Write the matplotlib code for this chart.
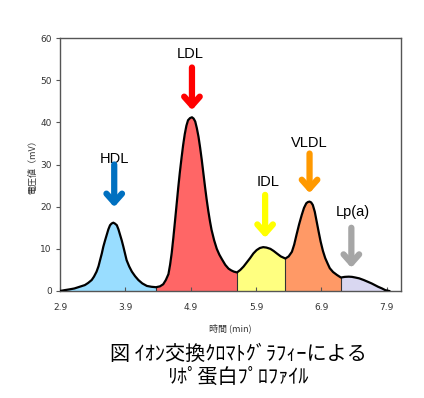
import numpy as np
import matplotlib
matplotlib.use("Agg")
import matplotlib.pyplot as plt

# ---- data ----
time_min = [2.90, 2.97, 3.05, 3.12, 3.20, 3.28, 3.33, 3.385, 3.42, 3.46, 3.49, 3.513, 3.54,
            3.563, 3.59, 3.615, 3.64, 3.666, 3.69, 3.716, 3.74, 3.77, 3.795, 3.82, 3.845,
            3.87, 3.895, 3.92, 3.96, 4.00, 4.05, 4.10, 4.16, 4.23, 4.30, 4.37,
            4.43, 4.48, 4.52, 4.56, 4.585, 4.61, 4.635, 4.66, 4.685, 4.71, 4.735, 4.76,
            4.785, 4.81, 4.835, 4.86, 4.89, 4.92, 4.945, 4.97, 4.995, 5.02, 5.045, 5.07,
            5.095, 5.12, 5.145, 5.17, 5.195, 5.22, 5.26, 5.30, 5.34, 5.38, 5.43, 5.48,
            5.52, 5.56, 5.61, 5.66, 5.71, 5.76, 5.81, 5.86, 5.91, 5.96, 6.01, 6.06,
            6.12, 6.17, 6.22, 6.28, 6.35, 6.40, 6.45, 6.485, 6.52, 6.56, 6.60, 6.635,
            6.67, 6.695, 6.72, 6.745, 6.77, 6.80, 6.83, 6.86, 6.89, 6.925, 6.96, 7.00,
            7.03, 7.08, 7.14, 7.20, 7.26, 7.32, 7.37, 7.42, 7.48, 7.55, 7.61, 7.67,
            7.72, 7.77, 7.83, 7.88, 7.94]
voltage_mv = [0.0, 0.2, 0.4, 0.6, 1.0, 1.4, 1.9, 2.6, 3.4, 4.6, 5.9, 7.3, 8.9,
              10.5, 12.0, 13.3, 14.6, 15.6, 16.0, 16.2, 16.0, 15.6, 14.6, 13.3, 12.0,
              10.5, 8.9, 7.3, 5.8, 4.6, 3.5, 2.6, 1.8, 1.2, 1.0, 0.9,
              1.1, 1.6, 2.6, 4.0, 6.2, 9.0, 12.6, 16.5, 20.5, 24.5, 28.2, 31.5,
              34.6, 37.2, 39.2, 40.5, 41.0, 41.2, 40.9, 40.2, 38.6, 36.6, 34.0, 31.1,
              27.9, 24.7, 21.7, 19.0, 16.6, 14.5, 12.0, 10.0, 8.6, 7.5, 6.2, 5.3,
              4.9, 4.6, 4.4, 5.0, 5.8, 6.8, 7.8, 8.9, 9.7, 10.2, 10.4, 10.3,
              10.0, 9.5, 8.9, 8.2, 7.7, 8.2, 9.3, 11.0, 13.3, 15.8, 18.0, 19.7,
              20.8, 21.1, 21.2, 21.0, 20.4, 18.8, 16.4, 14.0, 11.7, 9.5, 7.8, 6.4,
              5.4, 4.5, 3.8, 3.2, 3.35, 3.4, 3.35, 3.2, 3.0, 2.6, 2.2, 1.8,
              1.4, 1.0, 0.6, 0.2, 0.0]

fractions = ["HDL", "LDL", "IDL", "VLDL", "Lp(a)"]
boundaries = [2.90, 4.37, 5.61, 6.35, 7.20, 7.94]
fill_colors = ["#99DDFF", "#FF6666", "#FFFF80", "#FF9966", "#D9D7F1"]
arrow_colors = ["#0070C0", "#FF0000", "#FFFF00", "#FF9900", "#A6A6A6"]

x_ticks = [2.9, 3.9, 4.9, 5.9, 6.9, 7.9]
x_tick_labels = ["2.9", "3.9", "4.9", "5.9", "6.9", "7.9"]
y_ticks = [0, 10, 20, 30, 40, 50, 60]

title_lines = "図 ｲｵﾝ交換ｸﾛﾏﾄｸﾞﾗﾌｨｰによる\nﾘﾎﾟ蛋白ﾌﾟﾛﾌｧｲﾙ"
x_label = "時間 (min)"
y_label = "電圧値（mV）"

# ---- figure ----
plt.rcParams['font.family'] = ['DejaVu Sans', 'Noto Sans CJK JP']
fig = plt.figure(figsize=(4.24, 3.98), dpi=100)
ax = fig.add_axes([60/424, 1-291/398, (401-60)/424, (291-38)/398])

t = np.array(time_min)
v = np.array(voltage_mv)

for i, name in enumerate(fractions):
    a, b = boundaries[i], boundaries[i+1]
    m = (t >= a - 1e-9) & (t <= b + 1e-9)
    ax.fill_between(t[m], 0, v[m], color=fill_colors[i], lw=0, zorder=1)
# separator lines at interior boundaries
for bnd in boundaries[1:-1]:
    k = int(np.argmin(np.abs(t - bnd)))
    ax.plot([t[k], t[k]], [0, v[k]], color="#333333", lw=0.8, zorder=2)

ax.plot(t, v, color="black", lw=1.6, zorder=3, solid_joinstyle='round')

# labels + arrows (label y, arrow tip y, arrow tail y)
label_pos = {"HDL": (31.3, 19.9, 30.0), "LDL": (56.2, 42.9, 53.0),
             "IDL": (25.8, 12.6, 22.8), "VLDL": (35.1, 23.2, 32.6),
             "Lp(a)": (18.8, 5.5, 15.0)}
arrow_x = {"HDL": 3.73, "LDL": 4.92, "IDL": 6.04, "VLDL": 6.72, "Lp(a)": 7.36}
text_x = {"HDL": 3.73, "LDL": 4.90, "IDL": 6.08, "VLDL": 6.72, "Lp(a)": 7.38}
for i, name in enumerate(fractions):
    ty, tip, tail = label_pos[name]
    ax.text(text_x[name], ty, name, ha="center", va="center", fontsize=10.5,
            color="black", zorder=5, family=['Liberation Sans', 'DejaVu Sans'])
    ax.annotate("", xy=(arrow_x[name], tip), xytext=(arrow_x[name], tail),
                arrowprops=dict(arrowstyle="->,head_length=0.45,head_width=0.4",
                                color=arrow_colors[i], lw=4.5, mutation_scale=14,
                                shrinkA=0, shrinkB=0),
                zorder=5)

ax.set_xlim(2.9, 8.12)
ax.set_ylim(0, 60)
ax.set_xticks(x_ticks)
ax.set_xticklabels(x_tick_labels)
ax.set_yticks(y_ticks)
ax.tick_params(axis='x', direction='in', length=3, width=0.8, color="#555555",
               labelsize=6.5, labelcolor="#333333", pad=9)
ax.tick_params(axis='y', direction='out', length=3, width=0.8, color="#555555",
               labelsize=6.5, labelcolor="#333333", pad=3)
for s in ax.spines.values():
    s.set_color("#555555")
    s.set_linewidth(1.0)

fig.text(33/424, 1-165/398, y_label, rotation=90, ha="center", va="center",
         fontsize=6.5, color="#333333", family=['Noto Sans CJK JP', 'DejaVu Sans'])
fig.text(230/424, 1-328/398, x_label, ha="center", va="center",
         fontsize=6.5, color="#333333", family=['Noto Sans CJK JP', 'DejaVu Sans'])
fig.text(238/424, 1-366/398, title_lines, ha="center", va="center",
         fontsize=14.5, color="black", linespacing=1.15,
         family=['Noto Sans CJK JP', 'DejaVu Sans'])

fig.savefig("out.png", dpi=100)
